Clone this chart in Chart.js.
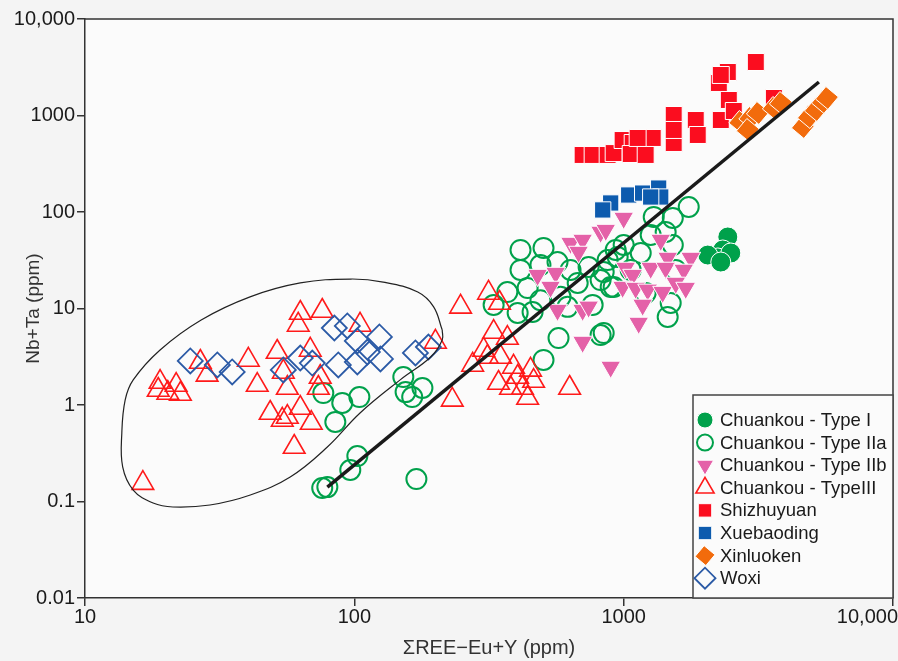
<!DOCTYPE html>
<html>
<head>
<meta charset="utf-8">
<script src="https://cdn.jsdelivr.net/npm/chart.js@4/dist/chart.umd.min.js"></script>
<style>
  html, body { margin: 0; padding: 0; background: #f4f4f4; }
  #wrap { width: 898px; height: 661px; }
</style>
</head>
<body>
<div id="wrap"><canvas id="myChart" width="898" height="661"></canvas></div>
<script>
// axis ticks
const X_TICKS = [10, 100, 1000, 10000];
const X_TICK_LABELS = ['10', '100', '1000', '10,000'];
const Y_TICKS = [0.01, 0.1, 1, 10, 100, 1000, 10000];
const Y_TICK_LABELS = ['0.01', '0.1', '1', '10', '100', '1000', '10,000'];

// [ΣREE-Eu+Y, Nb+Ta] in ppm
const typeI = [[2436, 55.1], [2333, 40.4], [2236, 33.4], [2053, 35.8], [2499, 37.6], [2294, 30.3]];

const typeIIa = [
  [76.0, 0.138], [79.4, 0.141], [96.6, 0.212], [102.6, 0.296], [170, 0.171],
  [76.7, 1.33], [90.2, 1.05], [104.4, 1.21], [85.0, 0.667], [152, 1.95], [179, 1.50], [164, 1.21], [155, 1.36],
  [414, 40.4], [504, 42.4], [568, 30.3], [414, 25.1], [491, 28.2], [635, 25.1], [741, 26.9], [872, 31.8],
  [934, 40.4], [675, 18.4], [821, 19.7], [895, 16.7], [370, 14.8], [440, 16.3], [491, 12.2], [583, 13.2],
  [619, 10.4], [767, 10.9], [329, 10.9], [404, 8.98], [459, 9.2], [573, 4.94], [821, 5.31], [504, 2.93],
  [1744, 112.7], [1522, 86.7], [1293, 88.8], [1432, 62.1], [1260, 57.8], [1522, 45.5], [1000, 45.5],
  [950, 34.2], [843, 23.9], [1157, 37.6], [1495, 11.4], [1457, 8.17], [843, 5.57], [1561, 25.1],
  [918, 16.7], [1207, 14.5], [1062, 25.1]
];

const typeIIb = [
  [821, 62.1], [635, 47.7], [704, 51.3], [680, 38.5], [479, 22.2], [559, 23.3], [535, 16.7], [568, 9.64],
  [704, 9.64], [741, 10.4], [704, 4.50], [895, 2.48], [1000, 86.7], [858, 65.0], [1373, 51.3], [1774, 33.4],
  [1457, 33.4], [1017, 26.3], [1260, 26.3], [1432, 26.3], [1671, 25.1], [1080, 22.2], [991, 16.7],
  [1108, 16.3], [1228, 15.6], [1396, 14.8], [1561, 18.4], [1700, 16.3], [1176, 10.9], [1137, 7.08]
];

const typeIII = [
  [16.4, 0.155], [19.0, 1.73], [21.8, 1.61], [18.7, 1.43], [22.6, 1.30], [20.3, 1.33], [28.4, 2.05],
  [26.8, 2.79], [40.4, 2.93], [43.6, 1.61], [51.7, 3.54], [54.5, 2.20], [63.0, 8.98], [76.0, 9.42],
  [61.9, 6.75], [105, 6.75], [56.4, 1.50], [48.7, 0.826], [54.0, 0.70], [63.0, 0.93], [69.2, 0.65],
  [73.5, 1.50], [74.7, 1.95], [68.6, 3.72], [59.8, 0.367], [56.4, 0.75], [200, 4.50], [248, 10.4],
  [315, 14.5], [346, 11.4], [231, 1.13], [630, 1.50], [302, 3.72], [329, 5.70], [370, 4.94], [275, 2.60],
  [312, 3.14], [349, 3.14], [390, 2.48], [343, 1.69], [404, 1.95], [451, 2.31], [463, 1.77], [421, 1.50],
  [440, 1.18], [380, 1.50]
];

const shizhuyuan = [
  [704, 390], [767, 390], [872, 390], [918, 408], [991, 557], [1080, 519], [1062, 399], [1207, 390],
  [1282, 585], [1127, 585], [1534, 1012], [1534, 519], [1534, 708], [1852, 898], [1884, 628], [2294, 898],
  [2256, 2172], [2436, 2823], [2294, 2630], [2457, 1448], [2564, 1113], [3095, 3584], [3611, 1519]
];

const xuebaoding = [[895, 124], [836, 105], [1044, 150], [1176, 157], [1349, 177], [1373, 143], [1260, 143]];

const xinluoken = [
  [2710, 857], [2952, 942], [3150, 1062], [2891, 708], [3611, 1197], [3833, 1349],
  [4628, 760], [4873, 965], [5173, 1140], [5494, 1380], [5684, 1519]
];

const woxi = [
  [24.6, 2.86], [31.0, 2.60], [35.2, 2.20], [54.5, 2.31], [63.0, 3.07], [69.8, 2.72], [84.3, 6.28],
  [94.2, 6.59], [102.6, 4.61], [123.9, 5.07], [111.8, 3.54], [87.2, 2.60], [102.6, 2.79], [125, 3.00],
  [168.6, 3.46], [188.4, 3.99]
];

// regression line and the hand-drawn field outline
const fitX = [79.4, 5307];
const fitY = [0.141, 2224];
const fieldX = [212, 197, 172, 128, 97, 63, 41, 27, 19, 15.1, 14.1, 13.7, 13.8, 15.1, 17.9, 21.2, 29.1, 41.1, 57.8, 79.4, 105, 148, 192, 212, 212];
const fieldY = [5.98, 10.4, 14.8, 18.8, 20.2, 18.4, 13.2, 7.6, 3.72, 1.82, 1.13, 0.513, 0.228, 0.1315, 0.0964, 0.0877, 0.092, 0.1168, 0.1795, 0.367, 0.826, 1.82, 3.14, 4.72, 5.98];

const FONT = '"Liberation Sans", Arial, sans-serif';
Chart.defaults.font.family = FONT;

const pts = (arr) => arr.map(([x, y]) => ({ x, y }));
const zip = (xs, ys) => xs.map((x, i) => ({ x, y: ys[i] }));

const datasets = [
  { label: 'Chuankou - Type I', data: pts(typeI), order: 9,
    pointStyle: 'circle', pointRadius: 10, backgroundColor: '#00a14b', borderColor: '#ffffff', borderWidth: 1, legendRadius: 8 },
  { label: 'Chuankou - Type IIa', data: pts(typeIIa), order: 8,
    pointStyle: 'circle', pointRadius: 10, backgroundColor: 'rgba(0,0,0,0)', borderColor: '#00a14b', borderWidth: 2, legendRadius: 8 },
  { label: 'Chuankou - Type IIb', data: pts(typeIIb), order: 6,
    pointStyle: 'triangle', rotation: 180, pointRadius: 11.5, backgroundColor: '#e461a8', borderColor: '#ffffff', borderWidth: 1, legendRadius: 10 },
  { label: 'Chuankou - TypeIII', data: pts(typeIII), order: 7,
    pointStyle: 'triangle', pointRadius: 12.5, backgroundColor: 'rgba(0,0,0,0)', borderColor: '#ff1a1a', borderWidth: 1.6, legendRadius: 10.5 },
  { label: 'Shizhuyuan', data: pts(shizhuyuan), order: 5,
    pointStyle: 'rect', pointRadius: 12, backgroundColor: '#fb0d1f', borderColor: '#ffffff', borderWidth: 1, legendRadius: 9.5 },
  { label: 'Xuebaoding', data: pts(xuebaoding), order: 4,
    pointStyle: 'rect', pointRadius: 11.5, backgroundColor: '#0d5bae', borderColor: '#ffffff', borderWidth: 1, legendRadius: 9.5 },
  { label: 'Xinluoken', data: pts(xinluoken), order: 3,
    pointStyle: 'rectRot', rotation: -5, pointRadius: 11.5, backgroundColor: '#f26b0c', borderColor: '#ffffff', borderWidth: 1, legendRadius: 10 },
  { label: 'Woxi', data: pts(woxi), order: 2,
    pointStyle: 'rectRot', pointRadius: 12.5, backgroundColor: 'rgba(0,0,0,0)', borderColor: '#2b5aa6', borderWidth: 1.8, legendRadius: 10.5 },
  { label: 'fit', data: zip(fitX, fitY), order: 0, showLine: true, pointRadius: 0,
    borderColor: '#1a1a1a', borderWidth: 3.5, noLegend: true },
  { label: 'field', data: zip(fieldX, fieldY), order: 1, showLine: true, pointRadius: 0, tension: 0.4,
    borderColor: '#222222', borderWidth: 1.2, noLegend: true }
];

const frame = {
  id: 'frame',
  beforeDraw(chart) {
    const { ctx, chartArea: a } = chart;
    ctx.save();
    ctx.fillStyle = '#f4f4f4';
    ctx.fillRect(0, 0, chart.width, chart.height);
    ctx.fillStyle = '#fbfbfb';
    ctx.fillRect(a.left, a.top, a.right - a.left, a.bottom - a.top);
    ctx.restore();
  },
  afterDraw(chart) {
    const { ctx, chartArea: a } = chart;
    ctx.save();
    ctx.strokeStyle = '#333';
    ctx.lineWidth = 1.5;
    ctx.beginPath();
    ctx.moveTo(a.left, a.top);
    ctx.lineTo(a.right, a.top);
    ctx.lineTo(a.right, a.bottom);
    ctx.stroke();

    // x tick labels (last one kept inside the canvas)
    const xs = chart.scales.x;
    ctx.font = '20px ' + FONT;
    ctx.fillStyle = '#1a1a1a';
    ctx.textAlign = 'center';
    ctx.textBaseline = 'top';
    X_TICKS.forEach((v, i) => {
      const w = ctx.measureText(X_TICK_LABELS[i]).width;
      const px = Math.min(xs.getPixelForValue(v), chart.width - w / 2);
      ctx.fillText(X_TICK_LABELS[i], px, xs.top + 9);
    });

    // legend box in the lower right corner
    const left = a.right - 200, top = a.bottom - 203;
    ctx.fillStyle = '#fbfbfb';
    ctx.fillRect(left, top, a.right - left, a.bottom - top);
    ctx.strokeStyle = '#444';
    ctx.lineWidth = 1.5;
    ctx.strokeRect(left, top, a.right - left, a.bottom - top);
    ctx.font = '18.5px ' + FONT;
    ctx.textAlign = 'left';
    ctx.textBaseline = 'middle';
    chart.data.datasets.filter((d) => !d.noLegend).forEach((d, i) => {
      const y = top + 25 + i * 22.6;
      ctx.fillStyle = d.backgroundColor;
      ctx.strokeStyle = d.borderColor;
      ctx.lineWidth = d.borderWidth;
      Chart.helpers.drawPoint(ctx, {
        pointStyle: d.pointStyle, radius: d.legendRadius, rotation: d.rotation || 0, borderWidth: d.borderWidth
      }, left + 12, y);
      ctx.fillStyle = '#1a1a1a';
      ctx.fillText(d.label, left + 27, y + 1);
    });
    ctx.restore();
  }
};

// fixed axis sizes, no extra padding from the tick labels
const fixSize = (prop, size) => (scale) => {
  scale[prop] = size;
  scale.paddingLeft = 0;
  scale.paddingRight = 0;
  scale.paddingTop = 0;
  scale.paddingBottom = 0;
};

window.onload = () => {
  const ctx = document.getElementById('myChart').getContext('2d');
  new Chart(ctx, {
    type: 'scatter',
    data: { datasets },
    options: {
      responsive: false,
      animation: false,
      events: [],
      layout: { autoPadding: false, padding: { left: 0, top: 19, right: 5, bottom: 0 } },
      plugins: { legend: { display: false }, tooltip: { enabled: false } },
      scales: {
        x: {
          type: 'logarithmic', min: 10, max: 10000,
          afterBuildTicks: (s) => { s.ticks = X_TICKS.map((v) => ({ value: v })); },
          afterFit: fixSize('height', 63),
          ticks: { display: false },
          grid: { drawOnChartArea: false, drawTicks: true, tickLength: 8, color: '#333', lineWidth: 1.5 },
          border: { display: true, color: '#333', width: 1.5 },
          title: { display: true, text: 'ΣREE\u2212Eu+Y (ppm)', color: '#333', font: { size: 20 }, padding: { top: 0, bottom: 1 } }
        },
        y: {
          type: 'logarithmic', min: 0.01, max: 10000,
          afterBuildTicks: (s) => { s.ticks = Y_TICKS.map((v) => ({ value: v })); },
          afterFit: fixSize('width', 85),
          ticks: { color: '#1a1a1a', font: { size: 20 }, padding: 2, callback: (v, i) => Y_TICK_LABELS[i] },
          grid: { drawOnChartArea: false, drawTicks: true, tickLength: 8, color: '#333', lineWidth: 1.5 },
          border: { display: true, color: '#333', width: 1.5 },
          title: { display: true, text: 'Nb+Ta (ppm)', color: '#333', font: { size: 19 }, padding: { top: 22, bottom: 0 } }
        }
      }
    },
    plugins: [frame]
  });
};
</script>
</body>
</html>
